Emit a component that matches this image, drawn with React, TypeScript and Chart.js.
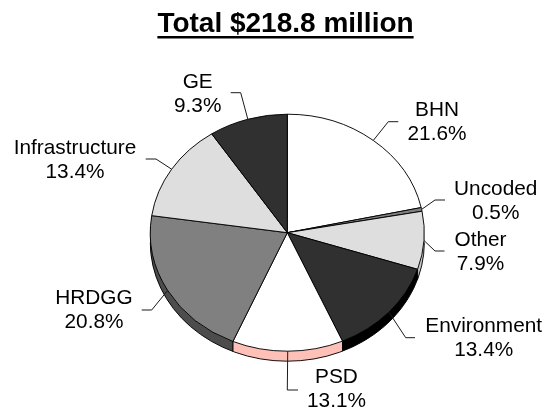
import React, { useEffect, useRef } from "react";
import { Chart, registerables } from "chart.js";

Chart.register(...registerables);

const titleText = "Total $218.8 million";
const categories = ["BHN", "Uncoded", "Other", "Environment", "PSD", "HRDGG", "Infrastructure", "GE"];
const shares = [21.6, 0.5, 7.9, 13.4, 13.1, 20.8, 13.4, 9.3];
const topColors = ["#ffffff", "#808080", "#dedede", "#303030", "#ffffff", "#808080", "#dedede", "#303030"];
const sideColors = ["#bfbfbf", "#606060", "#c8c8c8", "#000000", "#ffc0b8", "#4d4d4d", "#a6a6a6", "#000000"];

// label placement in page pixels: [elbow x, elbow y, end x, end y, text centre x, first line centre y]
const labelLayout = [
  [388.3, 121.7, 398.3, 121.7, 437, 110.5],
  [435, 200, 445, 200, 495.7, 189.5],
  [435, 251, 444.5, 251, 480.5, 240.5],
  [405.7, 337.7, 415, 337.7, 483.7, 326.5],
  [287.3, 390, 298, 390, 336.5, 377],
  [151.7, 310, 141.7, 310, 94, 298.5],
  [156, 159, 145.7, 159, 75, 148],
  [240.7, 92.7, 230.7, 92.7, 197.7, 82.5],
];

const FONT = '"Liberation Sans", Arial, sans-serif';
const CX = 287.3;
const CY = 232.7;
const RX = 137;
const RY = 118.5;
const DEPTH = 10;
const LINE_GAP = 24;
const TITLE_SIZE = 28;

const piePlugin = {
  id: "tiltedPie",
  beforeDatasetsDraw(chart: any) {
    const ctx = chart.ctx;
    const arcs = chart.getDatasetMeta(0).data;
    const k = RY / RX;
    const ox = arcs[0].x;
    const oy = arcs[0].y;
    const place = (dy: number) => {
      ctx.setTransform(1, 0, 0, k, CX - ox, CY + dy - oy * k);
    };
    const wedge = (el: any) => {
      ctx.beginPath();
      ctx.moveTo(el.x, el.y);
      ctx.arc(el.x, el.y, el.outerRadius, el.startAngle, el.endAngle);
      ctx.closePath();
    };
    ctx.save();
    for (let d = DEPTH; d >= 1; d--) {
      place(d);
      arcs.forEach((el: any, i: number) => {
        ctx.fillStyle = sideColors[i];
        wedge(el);
        ctx.fill();
      });
    }
    place(DEPTH);
    ctx.strokeStyle = "#000";
    ctx.lineWidth = 1;
    ctx.beginPath();
    ctx.arc(ox, oy, arcs[0].outerRadius, 0, Math.PI);
    ctx.stroke();
    ctx.restore();

    // vertical seams between side panels
    ctx.save();
    ctx.strokeStyle = "#000";
    ctx.lineWidth = 1;
    arcs.forEach((el: any) => {
      const s = Math.sin(el.startAngle);
      if (s <= 0.02) return;
      const px = CX + RX * Math.cos(el.startAngle);
      const py = CY + RY * s;
      ctx.beginPath();
      ctx.moveTo(px, py);
      ctx.lineTo(px, py + DEPTH);
      ctx.stroke();
    });
    ctx.restore();

    ctx.save();
    place(0);
  },
  afterDatasetsDraw(chart: any) {
    const ctx = chart.ctx;
    ctx.restore();
    const arcs = chart.getDatasetMeta(0).data;

    ctx.save();
    ctx.strokeStyle = "#1a1a1a";
    ctx.lineWidth = 1;
    ctx.fillStyle = "#000";
    ctx.font = `20.8px ${FONT}`;
    ctx.textAlign = "center";
    ctx.textBaseline = "middle";
    arcs.forEach((el: any, i: number) => {
      const mid = (el.startAngle + el.endAngle) / 2;
      const [ex, ey, fx, fy, tx, ty] = labelLayout[i];
      ctx.beginPath();
      ctx.moveTo(CX + RX * Math.cos(mid), CY + RY * Math.sin(mid));
      ctx.lineTo(ex, ey);
      ctx.lineTo(fx, fy);
      ctx.stroke();
      ctx.fillText(categories[i], tx, ty);
      ctx.fillText(`${shares[i].toFixed(1)}%`, tx, ty + LINE_GAP);
    });

    // underline of the title
    const t = chart.titleBlock;
    ctx.font = `bold ${TITLE_SIZE}px ${FONT}`;
    const w = ctx.measureText(titleText).width;
    const c = (t.left + t.right) / 2;
    ctx.fillRect(c - w / 2, 36, w, 2.5);
    ctx.restore();
  },
};

export default function App() {
  const ref = useRef<HTMLCanvasElement | null>(null);
  useEffect(() => {
    document.body.style.margin = "0";
    const chart = new Chart(ref.current as HTMLCanvasElement, {
      type: "pie",
      data: {
        labels: categories,
        datasets: [
          {
            data: shares,
            backgroundColor: topColors,
            borderColor: "#000000",
            borderWidth: 1,
            borderAlign: "center",
            clip: false,
          } as any,
        ],
      },
      options: {
        responsive: false,
        animation: false,
        radius: RX,
        layout: { padding: { left: 26, right: 0, top: 0, bottom: 0 } },
        plugins: {
          legend: { display: false },
          tooltip: { enabled: false },
          title: {
            display: true,
            text: titleText,
            color: "#000000",
            font: { family: FONT, size: TITLE_SIZE, weight: "bold", lineHeight: 1 },
            padding: { top: 10, bottom: 10 },
          },
        },
      } as any,
      plugins: [piePlugin],
    });
    return () => chart.destroy();
  }, []);
  return <canvas ref={ref} width={545} height={411} style={{ display: "block" }} />;
}
